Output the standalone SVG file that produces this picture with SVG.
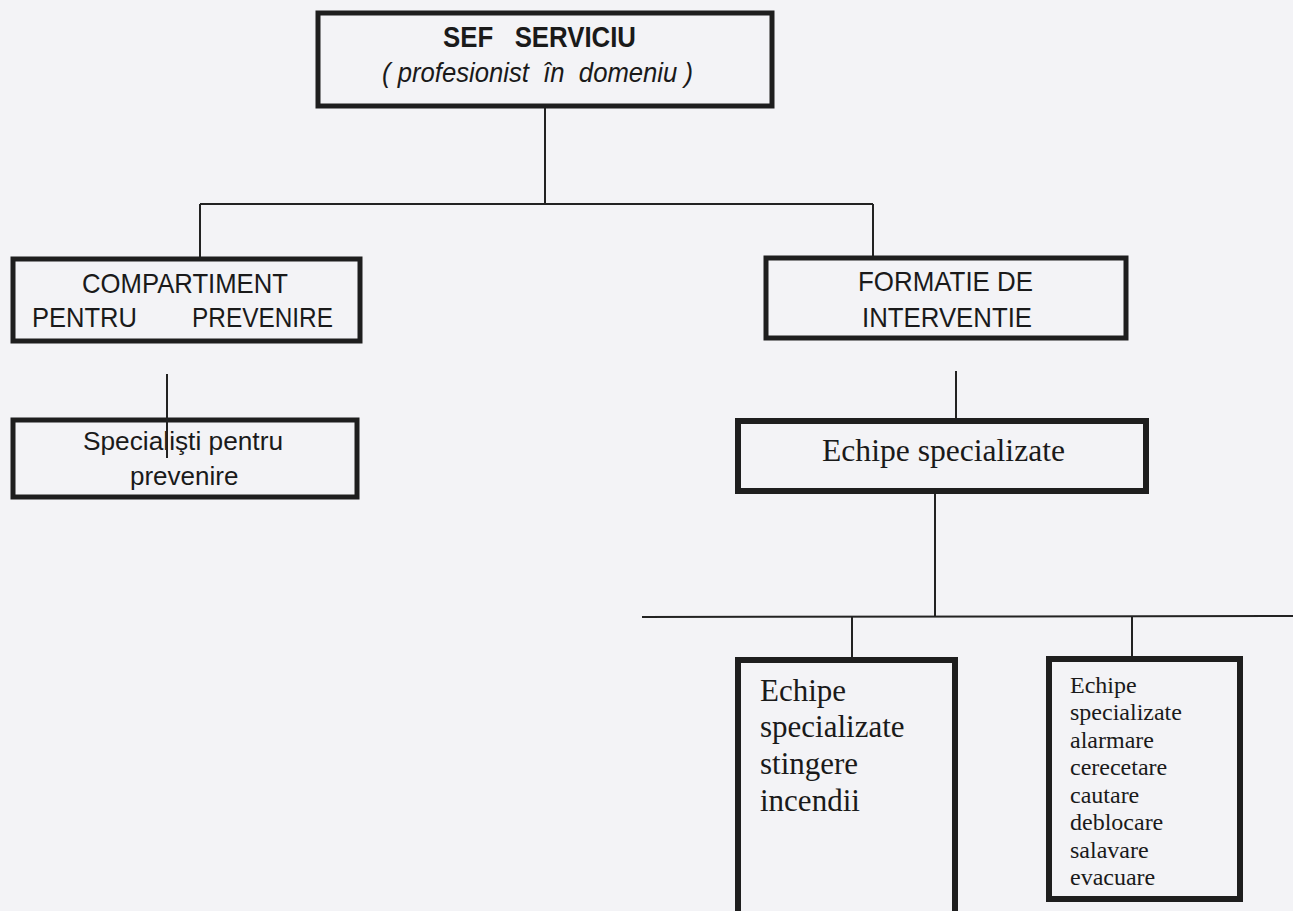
<svg xmlns="http://www.w3.org/2000/svg" width="1293" height="911" viewBox="0 0 1293 911">
<style>
.bg{fill:#f3f3f6}
.box{fill:#f3f3f6;stroke:#1e1e1e;stroke-width:5}
.box6{fill:#f3f3f6;stroke:#1e1e1e;stroke-width:6}
.con{stroke:#222;stroke-width:2;fill:none}
.sans{font-family:"Liberation Sans",Arial,sans-serif;fill:#1a1a1a}
.serif{font-family:"Liberation Serif","Times New Roman",serif;fill:#1a1a1a}
</style>
<rect class="bg" x="0" y="0" width="1293" height="911"/>
<g id="connectors">
<line class="con" x1="545" y1="106" x2="545" y2="204"/>
<line class="con" x1="200" y1="204" x2="873" y2="204"/>
<line class="con" x1="200" y1="204" x2="200" y2="257"/>
<line class="con" x1="873" y1="204" x2="873" y2="256"/>
<line class="con" x1="956" y1="371" x2="956" y2="419"/>
<line class="con" x1="935" y1="491" x2="935" y2="617"/>
<line class="con" x1="642" y1="617" x2="1293" y2="616"/>
<line class="con" x1="852" y1="617" x2="852" y2="658"/>
<line class="con" x1="1132" y1="616" x2="1132" y2="657"/>
</g>
<g id="sef">
<rect class="box" x="318" y="13" width="454" height="93"/>
<text class="sans" x="443" y="47" font-size="29" font-weight="bold" textLength="193" lengthAdjust="spacingAndGlyphs" xml:space="preserve">SEF   SERVICIU</text>
<text class="sans" x="382" y="82" font-size="28" font-style="italic" textLength="311" lengthAdjust="spacingAndGlyphs" xml:space="preserve">( profesionist  în  domeniu )</text>
</g>
<g id="compartiment">
<rect class="box" x="13" y="259" width="347" height="82"/>
<text class="sans" x="82" y="293" font-size="28" textLength="206" lengthAdjust="spacingAndGlyphs">COMPARTIMENT</text>
<text class="sans" x="32" y="327" font-size="28" textLength="105" lengthAdjust="spacingAndGlyphs">PENTRU</text>
<text class="sans" x="192" y="327" font-size="28" textLength="141" lengthAdjust="spacingAndGlyphs">PREVENIRE</text>
</g>
<g id="specialisti">
<rect class="box" x="13" y="420" width="344" height="77"/>
<text class="sans" x="83" y="450" font-size="26" textLength="200" lengthAdjust="spacingAndGlyphs">Specialişti pentru</text>
<text class="sans" x="130" y="485" font-size="26">prevenire</text>
</g>
<line class="con" x1="167" y1="374" x2="167" y2="458"/>
<g id="formatie">
<rect class="box" x="766" y="258" width="360" height="80"/>
<text class="sans" x="858" y="291" font-size="28" textLength="175" lengthAdjust="spacingAndGlyphs">FORMATIE DE</text>
<text class="sans" x="862" y="327" font-size="28" textLength="170" lengthAdjust="spacingAndGlyphs">INTERVENTIE</text>
</g>
<g id="echipe">
<rect class="box6" x="738" y="421" width="408" height="70"/>
<text class="serif" x="822" y="461" font-size="31" textLength="243" lengthAdjust="spacingAndGlyphs">Echipe specializate</text>
</g>
<g id="stingere">
<rect class="box6" x="738" y="660" width="217" height="270"/>
<text class="serif" font-size="31">
<tspan x="760" y="701">Echipe</tspan>
<tspan x="760" y="737">specializate</tspan>
<tspan x="760" y="774">stingere</tspan>
<tspan x="760" y="811">incendii</tspan>
</text>
</g>
<g id="alarmare">
<rect class="box6" x="1049" y="659" width="191" height="240"/>
<text class="serif" font-size="24">
<tspan x="1070" y="693">Echipe</tspan>
<tspan x="1070" y="720">specializate</tspan>
<tspan x="1070" y="748">alarmare</tspan>
<tspan x="1070" y="775">cerecetare</tspan>
<tspan x="1070" y="803">cautare</tspan>
<tspan x="1070" y="830">deblocare</tspan>
<tspan x="1070" y="858">salavare</tspan>
<tspan x="1070" y="885">evacuare</tspan>
</text>
</g>
</svg>
